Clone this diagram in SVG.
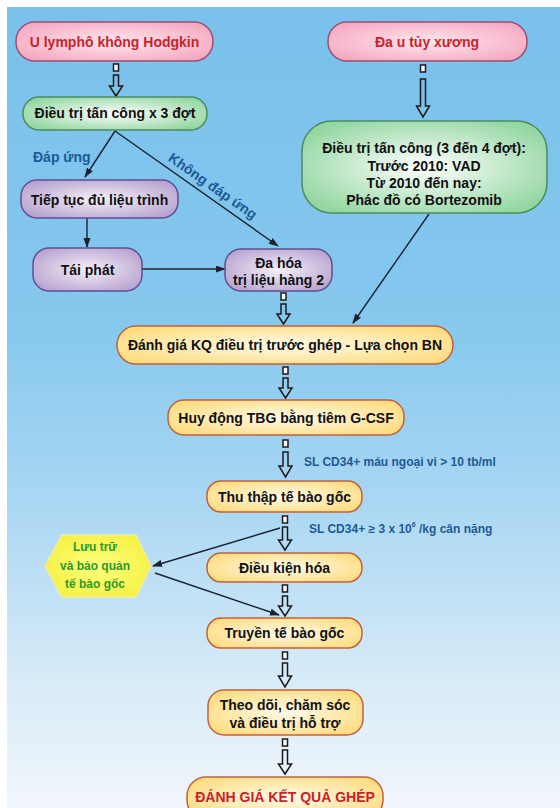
<svg xmlns="http://www.w3.org/2000/svg" width="560" height="808" viewBox="0 0 560 808">
<defs>
  <linearGradient id="bg" x1="0" y1="0" x2="0" y2="1">
    <stop offset="0" stop-color="#79c1eb"/>
    <stop offset="0.4" stop-color="#86c8ee"/>
    <stop offset="0.62" stop-color="#aad7f3"/>
    <stop offset="0.85" stop-color="#d9ecf8"/>
    <stop offset="1" stop-color="#f1f6fb"/>
  </linearGradient>
  <radialGradient id="gPink" cx="0.5" cy="0.5" r="0.6">
    <stop offset="0" stop-color="#ffe8ef"/>
    <stop offset="1" stop-color="#f5a9c0"/>
  </radialGradient>
  <radialGradient id="gGreen" cx="0.5" cy="0.5" r="0.6">
    <stop offset="0" stop-color="#ffffff"/>
    <stop offset="1" stop-color="#92d6a0"/>
  </radialGradient>
  <radialGradient id="gPurple" cx="0.5" cy="0.5" r="0.6">
    <stop offset="0" stop-color="#f5f0f8"/>
    <stop offset="1" stop-color="#b8a3cf"/>
  </radialGradient>
  <radialGradient id="gYellow" cx="0.5" cy="0.5" r="0.6">
    <stop offset="0" stop-color="#fffbea"/>
    <stop offset="1" stop-color="#ffdc80"/>
  </radialGradient>
  <radialGradient id="gHex" cx="0.5" cy="0.5" r="0.6">
    <stop offset="0" stop-color="#ffff80"/>
    <stop offset="1" stop-color="#f4f040"/>
  </radialGradient>
  <marker id="ah" markerUnits="userSpaceOnUse" markerWidth="10" markerHeight="8" refX="9" refY="3.5" orient="auto">
    <path d="M0,0 L10,3.5 L0,7 Z" fill="#1b2233"/>
  </marker>
  <style>
    .t{font-family:"Liberation Sans","Noto Sans","DejaVu Sans",sans-serif;font-weight:bold;font-size:14px;fill:#111;text-anchor:middle}
    .red{fill:#cc1f2b}
    .lbl{font-family:"Liberation Sans","Noto Sans","DejaVu Sans",sans-serif;font-weight:bold;font-size:12px;fill:#1d5a94}
    .big{font-size:14px}
    .hx{font-family:"Liberation Sans","Noto Sans","DejaVu Sans",sans-serif;font-weight:bold;font-size:12px;fill:#2b9a2b;text-anchor:middle}
    .pink{fill:url(#gPink);stroke:#9c4e74;stroke-width:1.5}
    .green{fill:url(#gGreen);stroke:#4b8c5e;stroke-width:1.5}
    .purple{fill:url(#gPurple);stroke:#5e4f92;stroke-width:1.5}
    .yellow{fill:url(#gYellow);stroke:#c2603e;stroke-width:1.5}
    .ln{stroke:#1b2233;stroke-width:1.4;fill:none;marker-end:url(#ah)}
    .sq{fill:#ffffff;stroke:#1b1b1b;stroke-width:1.5}
    .ha{fill:none;stroke:#1b1b1b;stroke-width:1.5;stroke-linejoin:miter}
  </style>
</defs>

<rect x="0" y="0" width="560" height="808" fill="#ffffff"/>
<rect x="7" y="7" width="553" height="801" fill="url(#bg)"/>

<g id="connectors">
  <line class="ln" x1="115" y1="131" x2="85" y2="177"/>
  <line class="ln" x1="115" y1="131" x2="278" y2="246"/>
  <line class="ln" x1="87" y1="218" x2="87" y2="247"/>
  <line class="ln" x1="142" y1="269" x2="225" y2="269"/>
  <line class="ln" x1="429" y1="214" x2="353" y2="323"/>
  <line class="ln" x1="280" y1="528" x2="153" y2="566"/>
  <line class="ln" x1="155" y1="573" x2="279" y2="615"/>

  <rect class="sq" x="113.5" y="64" width="5" height="7"/>
  <path class="ha" d="M113.5,75 H118.5 V86 H122.5 L116,96 L109.5,86 H113.5 Z"/>
  <rect class="sq" x="420.5" y="65" width="5" height="7"/>
  <path class="ha" d="M420.5,79 H425.5 V106 H429.5 L423,117 L416.5,106 H420.5 Z"/>
  <rect class="sq" x="281" y="293" width="5" height="7"/>
  <path class="ha" d="M281,304 H286 V314 H290 L283.5,324 L277,314 H281 Z"/>
  <rect class="sq" x="283" y="367" width="5" height="7"/>
  <path class="ha" d="M283,378 H288 V388 H292 L285.5,398 L279,388 H283 Z"/>
  <rect class="sq" x="283" y="440" width="5" height="7"/>
  <path class="ha" d="M283,452 H288 V466 H292 L285.5,477 L279,466 H283 Z"/>
  <rect class="sq" x="282.5" y="516" width="5" height="7"/>
  <path class="ha" d="M282.5,527 H287.5 V540 H291.5 L285,550 L278.5,540 H282.5 Z"/>
  <rect class="sq" x="282.5" y="585" width="5" height="7"/>
  <path class="ha" d="M282.5,596 H287.5 V606 H291.5 L285,616 L278.5,606 H282.5 Z"/>
  <rect class="sq" x="282.5" y="652" width="5" height="7"/>
  <path class="ha" d="M282.5,663 H287.5 V676 H291.5 L285,687 L278.5,676 H282.5 Z"/>
  <rect class="sq" x="282.5" y="739" width="5" height="7"/>
  <path class="ha" d="M282.5,750 H287.5 V764 H291.5 L285,774 L278.5,764 H282.5 Z"/>

  <text class="lbl big" x="33" y="162">Đáp ứng</text>
  <text class="lbl big" x="0" y="0" text-anchor="middle" transform="translate(210,190) rotate(35)">Không đáp ứng</text>
  <text class="lbl" x="304" y="466">SL CD34+ máu ngoại vi &gt; 10 tb/ml</text>
  <text class="lbl" x="309" y="533">SL CD34+ ≥ 3 x 10<tspan font-size="7" dy="-6">6</tspan><tspan dy="6"> /kg cân nặng</tspan></text>
</g>

<g id="n1">
  <rect class="pink" x="16" y="22" width="197" height="39" rx="19"/>
  <text class="t red" x="114.5" y="47">U lymphô không Hodgkin</text>
</g>
<g id="n2">
  <rect class="pink" x="328" y="22" width="199" height="39" rx="19"/>
  <text class="t red" x="427" y="47">Đa u tủy xương</text>
</g>
<g id="n3">
  <rect class="green" x="23" y="97" width="184" height="33" rx="16"/>
  <text class="t" x="115" y="118">Điều trị tấn công x 3 đợt</text>
</g>
<g id="n4">
  <rect class="green" x="302" y="121" width="245" height="92" rx="30"/>
  <text class="t" x="424" y="153">Điều trị tấn công (3 đến 4 đợt):</text>
  <text class="t" x="424" y="171">Trước 2010: VAD</text>
  <text class="t" x="424" y="188">Từ 2010 đến nay:</text>
  <text class="t" x="424" y="205">Phác đồ có Bortezomib</text>
</g>
<g id="n5">
  <rect class="purple" x="21" y="180" width="157" height="38" rx="16"/>
  <text class="t" x="99.5" y="205">Tiếp tục đủ liệu trình</text>
</g>
<g id="n6">
  <rect class="purple" x="33" y="248" width="109" height="43" rx="16"/>
  <text class="t" x="87.5" y="275">Tái phát</text>
</g>
<g id="n7">
  <rect class="purple" x="225" y="249" width="107" height="42" rx="16"/>
  <text class="t" x="278.5" y="268">Đa hóa</text>
  <text class="t" x="278.5" y="285">trị liệu hàng 2</text>
</g>
<g id="n8">
  <rect class="yellow" x="117" y="326" width="336" height="38" rx="19"/>
  <text class="t" x="285" y="350">Đánh giá KQ điều trị trước ghép - Lựa chọn BN</text>
</g>
<g id="n9">
  <rect class="yellow" x="168" y="400" width="236" height="35" rx="16"/>
  <text class="t" x="286" y="423">Huy động TBG bằng tiêm G-CSF</text>
</g>
<g id="n10">
  <rect class="yellow" x="207" y="481" width="155" height="31" rx="14"/>
  <text class="t" x="284.5" y="502">Thu thập tế bào gốc</text>
</g>
<g id="hex">
  <polygon points="45,566 62,535 136,535 151,566 136,597 62,597" fill="url(#gHex)" stroke="#f3ee9a" stroke-width="1.5"/>
  <text class="hx" x="95" y="551">Lưu trữ</text>
  <text class="hx" x="95" y="570">và bảo quản</text>
  <text class="hx" x="95" y="588">tế bào gốc</text>
</g>
<g id="n11">
  <rect class="yellow" x="207" y="553" width="155" height="29" rx="14"/>
  <text class="t" x="284.5" y="573">Điều kiện hóa</text>
</g>
<g id="n12">
  <rect class="yellow" x="207" y="618" width="155" height="30" rx="14"/>
  <text class="t" x="284.5" y="638">Truyền tế bào gốc</text>
</g>
<g id="n13">
  <rect class="yellow" x="208" y="690" width="155" height="45" rx="16"/>
  <text class="t" x="285" y="710">Theo dõi, chăm sóc</text>
  <text class="t" x="285" y="728">và điều trị hỗ trợ</text>
</g>
<g id="n14">
  <rect class="yellow" x="187" y="777" width="196" height="42" rx="19"/>
  <text class="t red" x="285" y="802">ĐÁNH GIÁ KẾT QUẢ GHÉP</text>
</g>
</svg>
